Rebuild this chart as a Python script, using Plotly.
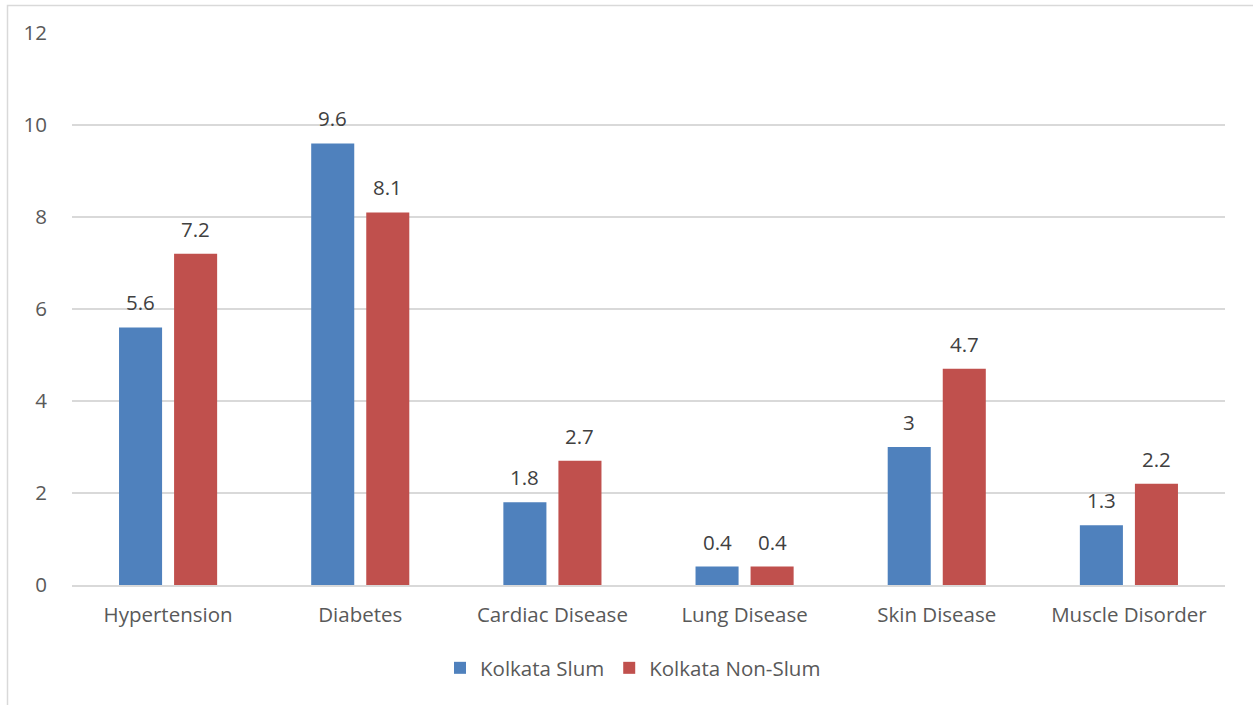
import plotly.graph_objects as go

categories = ["Hypertension", "Diabetes", "Cardiac Disease", "Lung Disease", "Skin Disease", "Muscle Disorder"]
slum = [5.6, 9.6, 1.8, 0.4, 3, 1.3]
non_slum = [7.2, 8.1, 2.7, 0.4, 4.7, 2.2]
series_names = ["Kolkata Slum", "Kolkata Non-Slum"]
y_ticks = [0, 2, 4, 6, 8, 10, 12]

FONT = "Open Sans"
FS = 20.5
W, H = 1253, 705
L, R, T, B = 72, 28, 33, 120
pw, ph = W - L - R, H - T - B

def px_x(x):
    return (x - L) / pw

def px_y(y):
    return (H - B - y) / ph

fig = go.Figure()
annotations = []
for (name, vals, col), dx in zip([(series_names[0], slum, "#4F81BD"), (series_names[1], non_slum, "#C0504D")], [-27.5, 27.5]):
    fig.add_trace(go.Bar(
        x=categories, y=vals, name=name,
        marker=dict(color=col, line=dict(width=0)),
    ))
    for c, v in zip(categories, vals):
        annotations.append(dict(x=c, y=v, xref="x", yref="y", text=f"{v:g}", showarrow=False,
                                xshift=dx, yshift=25, yanchor="middle", xanchor="center",
                                font=dict(family=FONT, size=FS, color="#404040")))

fig.update_layout(
    width=W, height=H,
    margin=dict(l=L, r=R, t=T, b=B),
    paper_bgcolor="white", plot_bgcolor="white",
    barmode="group", bargap=0.427, bargroupgap=0.218,
    font=dict(family=FONT, size=FS, color="#595959"),
    annotations=annotations,
    legend=dict(orientation="h", x=px_x(633), xanchor="center", y=px_y(668), yanchor="middle",
                font=dict(family=FONT, size=FS, color="#595959"), itemwidth=30, tracegroupgap=0),
    shapes=[dict(type="rect", xref="paper", yref="paper",
                 x0=px_x(7.5), x1=px_x(1270), y0=px_y(720), y1=px_y(5.5),
                 line=dict(color="#D9D9D9", width=1.5), fillcolor="rgba(0,0,0,0)", layer="below")],
)
fig.update_xaxes(showgrid=False, showline=True, linecolor="#D9D9D9", linewidth=1.5,
                 ticks="", ticklabelstandoff=11, tickfont=dict(family=FONT, size=FS, color="#595959"))
fig.update_yaxes(range=[0, 12], tickvals=y_ticks, showgrid=True, gridcolor="#D9D9D9", gridwidth=1.5,
                 zeroline=False, showline=False, ticks="", ticklabelstandoff=24,
                 tickfont=dict(family=FONT, size=FS, color="#595959"))

fig.write_html("out.html")
